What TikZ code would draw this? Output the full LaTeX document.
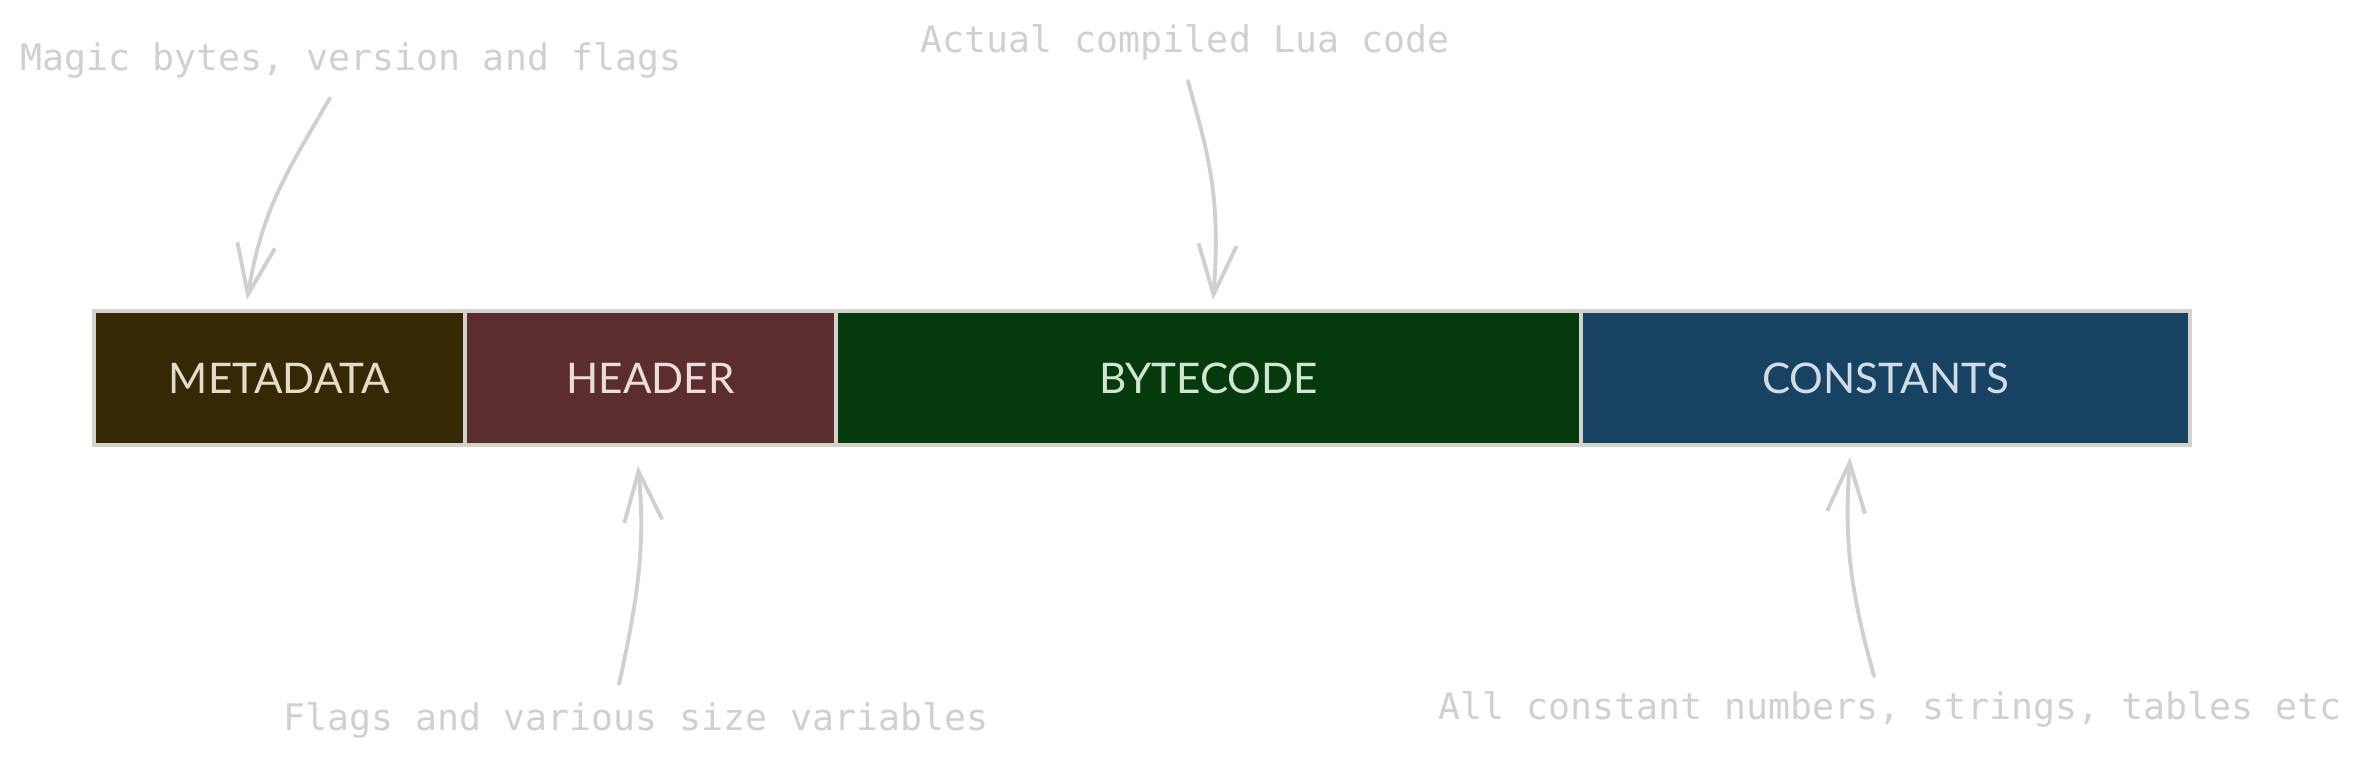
\documentclass[tikz,border=0pt]{standalone}
\usepackage{fontspec}
\setmainfont{Lato}
\newfontfamily\notefont{DejaVu Sans Mono}
\usepackage{tikz}
\usetikzlibrary{positioning}
\usetikzlibrary{arrows.meta}
\usetikzlibrary{backgrounds}

\definecolor{metafill}{HTML}{352805}
\definecolor{headfill}{HTML}{5B2D2F}
\definecolor{codefill}{HTML}{053A0C}
\definecolor{constfill}{HTML}{184262}
\definecolor{edgegrey}{HTML}{D4D2CC}
\definecolor{notegrey}{HTML}{D0D0D0}

\begin{document}
\begin{tikzpicture}[
		block/.style = {draw = edgegrey, line width = 1.1pt, rectangle, outer sep = 0pt,
			minimum height = 1.34cm, inner sep = 0pt, font = \fontsize{12}{14}\selectfont},
		note/.style = {text = notegrey, font = \notefont\fontsize{10.4}{12}\selectfont, inner sep = 0pt},
		pointer/.style = {draw = notegrey, line width = 1.1pt, line cap = round,
			-{Straight Barb[length = 0.5cm, width = 0.38cm, line width = 1.1pt]}}
	]
		\useasboundingbox (0,0) rectangle (23.62,-7.68);
		% the four parts of the file
		\node[block, fill = metafill, text = {rgb,255:red,228;green,220;blue,200}, minimum width = 3.71cm] at (2.795,-3.78) (meta) {METADATA};
		\node[block, right = 0cm of meta, fill = headfill, text = {rgb,255:red,236;green,220;blue,218}, minimum width = 3.71cm] (head) {HEADER};
		\node[block, right = 0cm of head, fill = codefill, text = {rgb,255:red,208;green,230;blue,208}, minimum width = 7.45cm] (code) {BYTECODE};
		\node[block, right = 0cm of code, fill = constfill, text = {rgb,255:red,208;green,220;blue,230}, minimum width = 6.09cm] (consts) {CONSTANTS};
		% notes
		\node[note] at (3.51,-0.60) (magic) {Magic bytes, version and flags};
		\node[note] at (11.85,-0.42) (actual) {Actual compiled Lua code};
		\node[note] at (6.36,-7.20) (flags) {Flags and various size variables};
		\node[note] at (18.90,-7.09) (allc) {All constant numbers, strings, tables etc};
		\coordinate (magictail) at (3.30,-0.98);
		\coordinate (magictip) at (2.47,-3.00);
		\coordinate (actualtail) at (11.88,-0.81);
		\coordinate (actualtip) at (12.13,-3.00);
		\coordinate (flagstail) at (6.19,-6.84);
		\coordinate (flagstip) at (6.38,-4.66);
		\coordinate (allctail) at (18.74,-6.76);
		\coordinate (allctip) at (18.50,-4.57);
		\draw[pointer] (magictail) .. controls (2.85,-1.75) and (2.62,-2.1) .. (magictip);
		\draw[pointer] (actualtail) .. controls (12.05,-1.45) and (12.22,-1.9) .. (actualtip);
		\draw[pointer] (flagstail) .. controls (6.40,-5.9) and (6.45,-5.4) .. (flagstip);
		\draw[pointer] (allctail) .. controls (18.5,-5.9) and (18.44,-5.4) .. (allctip);
	\end{tikzpicture}
\end{document}
